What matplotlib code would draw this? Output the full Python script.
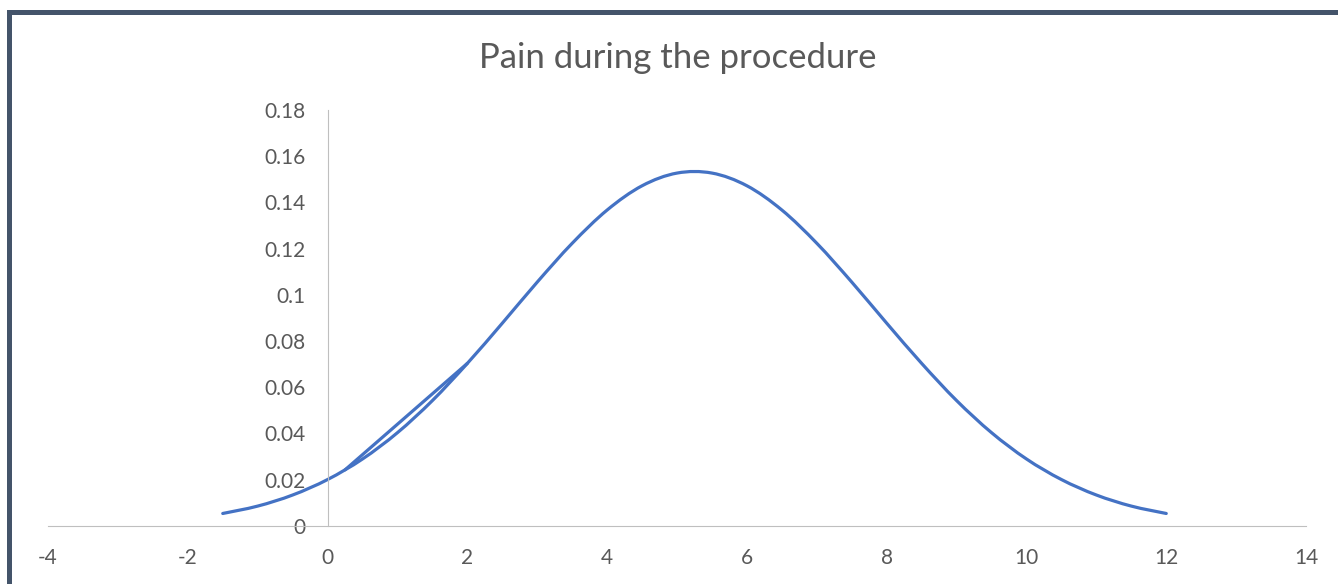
import matplotlib
matplotlib.use('Agg')
import numpy as np
import matplotlib.pyplot as plt
from matplotlib.path import Path
from matplotlib.patches import PathPatch, Rectangle
from matplotlib.ticker import FormatStrFormatter

plt.rcParams['font.family'] = ['Lato', 'DejaVu Sans']
plt.rcParams['axes.unicode_minus'] = False

# pain score vs. density
pain_x = [-1.5, -1.0, -0.5, 0.0, 0.5, 1.0, 1.5, 2.0, 2.5, 3.0, 3.5, 4.0, 4.5, 5.0,
          5.5, 6.0, 6.5, 7.0, 7.5, 8.0, 8.5, 9.0, 9.5, 10.0, 10.5, 11.0, 11.5, 12.0]
density = [0.0053, 0.0085, 0.0133, 0.0200, 0.0289, 0.0403, 0.0542, 0.0703, 0.0877,
           0.1055, 0.1223, 0.1367, 0.1472, 0.1527, 0.1527, 0.1472, 0.1367, 0.1223,
           0.1055, 0.0877, 0.0703, 0.0542, 0.0403, 0.0289, 0.0200, 0.0133, 0.0085,
           0.0053]
# the stray straight segment of the series (unsorted points)
chord_x = [0.25, 2.0]
chord_y = [0.0242, 0.0703]

x_ticks = [-4, -2, 0, 2, 4, 6, 8, 10, 12, 14]
y_ticks = [0, 0.02, 0.04, 0.06, 0.08, 0.1, 0.12, 0.14, 0.16, 0.18]

line_color = '#4472C4'
text_color = '#595959'
axis_color = '#BFBFBF'


def smooth_path(xs, ys):
    # Excel-like smoothed line: Catmull-Rom turned into cubic beziers
    pts = np.column_stack([xs, ys])
    n = len(pts)
    verts = [pts[0]]
    codes = [Path.MOVETO]
    for i in range(n - 1):
        p0 = pts[max(i - 1, 0)]
        p1 = pts[i]
        p2 = pts[i + 1]
        p3 = pts[min(i + 2, n - 1)]
        verts += [p1 + (p2 - p0) / 6, p2 - (p3 - p1) / 6, p2]
        codes += [Path.CURVE4] * 3
    return Path(verts, codes)


fig = plt.figure(figsize=(13.38, 5.84), dpi=100)
ax = fig.add_axes([0.0359, 0.0998, 0.9402, 0.7118])

ax.add_patch(PathPatch(smooth_path(pain_x, density), fill=False,
                       edgecolor=line_color, lw=2.3, capstyle='round'))
ax.plot(chord_x, chord_y, color=line_color, lw=2.3, solid_capstyle='round')

ax.set_xlim(-4, 14)
ax.set_ylim(0, 0.18)
ax.set_xticks(x_ticks)
ax.set_yticks(y_ticks)
ax.yaxis.set_major_formatter(FormatStrFormatter('%g'))

for s in ['top', 'right']:
    ax.spines[s].set_visible(False)
ax.spines['left'].set_position(('data', 0))
ax.spines['left'].set_color(axis_color)
ax.spines['bottom'].set_color(axis_color)
ax.tick_params(length=0, labelsize=15, labelcolor=text_color)
ax.tick_params(axis='x', pad=16)
ax.tick_params(axis='y', pad=16)

fig.text(0.5067, 1 - 58 / 584, 'Pain during the procedure', ha='center',
         va='center', fontsize=25, color=text_color)

# dark frame around the chart area
fig.add_artist(Rectangle((8.5 / 1338, -0.1), 1.2, 1.1 - 11.5 / 584,
                         transform=fig.transFigure, fill=False,
                         edgecolor='#44546A', lw=3.6, clip_on=False))

fig.savefig('out.png', dpi=100)
